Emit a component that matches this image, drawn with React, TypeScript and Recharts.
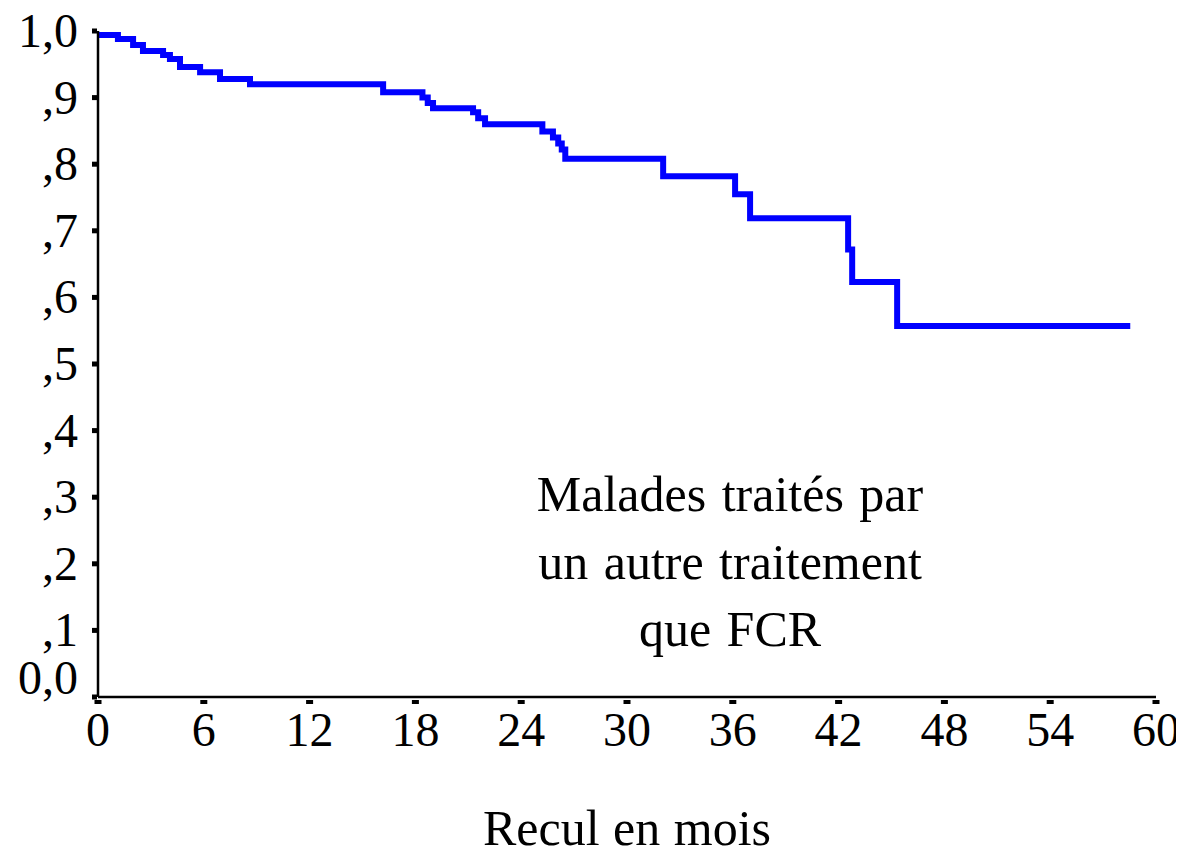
import React from 'react';
import { LineChart, Line, XAxis, YAxis, Customized } from 'recharts';

// Kaplan-Meier survival, other treatment than FCR
const months = [0, 1.13, 1.99, 2.55, 3.69, 4.08, 4.65, 5.79, 6.92, 8.62, 16.17, 18.4, 18.7, 19.0, 21.27, 21.56, 21.95, 25.2, 25.8, 26.1, 26.3, 26.5, 32.05, 36.13, 36.98, 42.54, 42.77, 45.32, 58.54];
const survival = [0.994, 0.988, 0.979, 0.97, 0.964, 0.958, 0.946, 0.938, 0.928, 0.92, 0.908, 0.9, 0.892, 0.884, 0.878, 0.869, 0.86, 0.849, 0.84, 0.831, 0.822, 0.808, 0.782, 0.755, 0.719, 0.672, 0.623, 0.557, 0.557];

const xTicks = [0, 6, 12, 18, 24, 30, 36, 42, 48, 54, 60];
const yTicks = [0, 0.1, 0.2, 0.3, 0.4, 0.5, 0.6, 0.7, 0.8, 0.9, 1];

const noteLines = ['Malades traités par', 'un autre traitement', 'que FCR'];
const xTitle = 'Recul en mois';

const data = months.map((m, i) => ({ m, s: survival[i] }));

const FONT = '"Liberation Serif", "Times New Roman", serif';

const fmtY = (v: number) => {
  if (v === 1) return '1,0';
  if (v === 0) return '0,0';
  return ',' + Math.round(v * 10);
};

const XTick = (props: any) => {
  const { x, y, payload } = props;
  return (
    <g>
      <rect x={x - 3.5} y={y + 3} width={7} height={4} fill="#000" />
      <text x={x} y={y + 49} textAnchor="middle" fontSize={48} fontFamily={FONT} fill="#000">
        {payload.value}
      </text>
    </g>
  );
};

const YTick = (props: any) => {
  const { x, y, payload } = props;
  const dy = payload.value === 0 ? -3 : 16;
  return (
    <g>
      <rect x={x - 6} y={y - 2.5} width={5} height={5} fill="#000" />
      <text x={x - 20} y={y + dy} textAnchor="end" fontSize={48} fontFamily={FONT} fill="#000">
        {fmtY(payload.value)}
      </text>
    </g>
  );
};

const Note = () => (
  <g>
    {noteLines.map((t, i) => (
      <text key={i} x={722} y={503 + i * 67.5} textAnchor="middle" fontSize={50} wordSpacing={3} fontFamily={FONT} fill="#000">
        {t}
      </text>
    ))}
    <text x={619} y={837} textAnchor="middle" fontSize={50} wordSpacing={1} fontFamily={FONT} fill="#000">
      {xTitle}
    </text>
  </g>
);

export default function App() {
  return (
    <div style={{ width: 1168, height: 839, background: '#fff' }}>
      <style>{'.recharts-surface { overflow: visible; }'}</style>
      <LineChart width={1176} height={847} data={data} margin={{ top: 23, right: 28, left: 0, bottom: 8 }}>
        <XAxis
          dataKey="m"
          type="number"
          domain={[0, 60]}
          ticks={xTicks}
          height={150}
          tickSize={0}
          tickMargin={0}
          tickLine={false}
          axisLine={{ stroke: '#000', strokeWidth: 2.5 }}
          tick={<XTick />}
          interval={0}
        />
        <YAxis
          type="number"
          domain={[0, 1]}
          ticks={yTicks}
          width={90}
          tickSize={0}
          tickMargin={0}
          tickLine={false}
          axisLine={{ stroke: '#000', strokeWidth: 2.5 }}
          tick={<YTick />}
          interval={0}
        />
        <Line
          type="stepAfter"
          dataKey="s"
          stroke="#0000ff"
          strokeWidth={6}
          dot={false}
          isAnimationActive={false}
        />
        <Customized component={<Note />} />
      </LineChart>
    </div>
  );
}
